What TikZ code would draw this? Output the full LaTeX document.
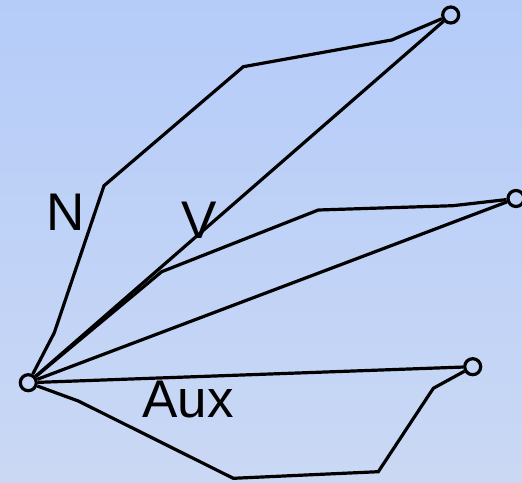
\documentclass[tikz,border=0pt]{standalone}
\usepackage{fontspec}
\setmainfont{Liberation Sans}
\definecolor{bgtop}{RGB}{181,204,249}
\definecolor{bgbot}{RGB}{202,216,244}
\begin{document}
\begin{tikzpicture}[x=1pt,y=-1pt,
  endpt/.style={circle,draw,line width=3.2pt,minimum size=16pt,inner sep=0pt},
  conn/.style={line width=3.2pt},
  lbl/.style={anchor=base,inner sep=0pt,font=\fontsize{53}{60}\selectfont}]
\shade[top color=bgtop,bottom color=bgbot] (0,0) rectangle (522,482);
\useasboundingbox (0,0) rectangle (522,482);
\node[endpt] (o) at (28.3,382.7) {};
\node[endpt] (t) at (450.7,15) {};
\node[endpt] (r) at (516,198.5) {};
\node[endpt] (b) at (472.7,366.7) {};
% N path
\draw[conn] (o) -- (54.3,332.7) -- (104,185.7) -- (243.3,66.7) -- (391.7,40) -- (t);
\draw[conn] (o) -- (t);
% V path
\draw[conn] (o) -- (161.7,271.7) -- (318.3,210) -- (452.7,205.7) -- (r);
\draw[conn] (o) -- (r);
% Aux
\draw[conn] (o) -- (b);
\draw[conn] (o) -- (78.3,401) -- (233.3,478.3) -- (378.3,471.7) -- (433.3,388.3) -- (b);
\node[lbl] (nl) at (66,230) {N};
\node[lbl] (vl) at (199.5,238) {V};
\node[lbl] (al) at (188,417) {Aux};
\end{tikzpicture}
\end{document}
